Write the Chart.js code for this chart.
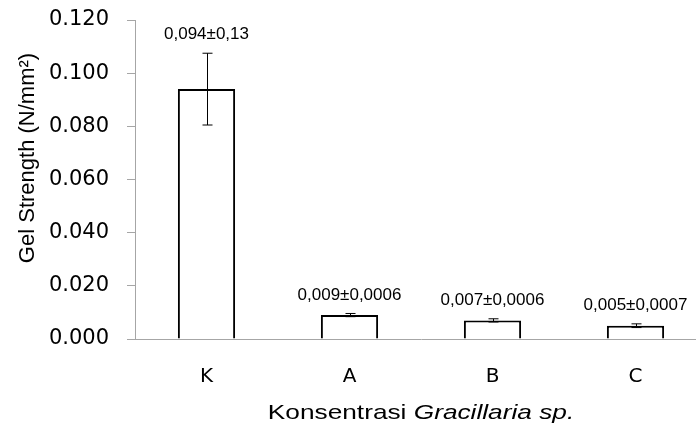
<!DOCTYPE html>
<html>
<head>
<meta charset="utf-8">
<script src="https://cdn.jsdelivr.net/npm/chart.js@4"></script>
<style>
body{margin:0;background:#fff;overflow:hidden;}
#wrap{width:696px;height:429px;overflow:hidden;}
</style>
</head>
<body>
<div id="wrap"><canvas id="grph" width="712" height="429"></canvas></div>
<script>
// data
const CATS = ["K", "A", "B", "C"];
const GEL = [0.094, 0.009, 0.007, 0.005];
const ERR = [0.0135, 0.0006, 0.0006, 0.0007];
const LABELS = ["0,094±0,13", "0,009±0,0006", "0,007±0,0006", "0,005±0,0007"];
const Y_TICKS = [0, 0.02, 0.04, 0.06, 0.08, 0.1, 0.12];

const GRAY = "#a6a6a6";

// error bars, value labels, axis titles
const errPlugin = {
    id: "errbars",
    afterDatasetsDraw(chart){
        const ctx = chart.ctx;
        const ys = chart.scales.y;
        const meta = chart.getDatasetMeta(0);
        ctx.save();
        meta.data.forEach((bar, i) => {
            const x = Math.round(bar.x) + 0.5;
            const top = ys.getPixelForValue(GEL[i] + ERR[i]);
            const bot = ys.getPixelForValue(GEL[i] - ERR[i]);
            ctx.strokeStyle = "#000";
            ctx.lineWidth = 1;
            ctx.beginPath();
            ctx.moveTo(x, top); ctx.lineTo(x, bot);
            ctx.moveTo(x - 5, top); ctx.lineTo(x + 5, top);
            ctx.moveTo(x - 5, bot); ctx.lineTo(x + 5, bot);
            ctx.stroke();

            ctx.fillStyle = "#000";
            ctx.font = "17px 'Liberation Sans'";
            ctx.textAlign = "center";
            ctx.textBaseline = "bottom";
            ctx.fillText(LABELS[i], bar.x, top - 10);
        });
        ctx.restore();
    },
    afterDraw(chart){
        const ctx = chart.ctx;
        const area = chart.chartArea;
        ctx.save();
        ctx.fillStyle = "#000";
        ctx.textBaseline = "middle";

        // x title, normal + italic part, a bit wide like the original
        const a = "Konsentrasi ", b = "Gracillaria sp.";
        const sx = 1.25;
        ctx.font = "21px 'Liberation Sans'";
        const wa = ctx.measureText(a).width;
        ctx.font = "italic 21px 'Liberation Sans'";
        const wb = ctx.measureText(b).width;
        const cx = (area.left + area.right) / 2;
        ctx.translate(cx, 413);
        ctx.scale(sx, 1);
        const x0 = -(wa + wb) / 2;
        ctx.textAlign = "left";
        ctx.font = "21px 'Liberation Sans'";
        ctx.fillText(a, x0, 0);
        ctx.font = "italic 21px 'Liberation Sans'";
        ctx.fillText(b, x0 + wa, 0);
        ctx.restore();

        // y title
        ctx.save();
        ctx.fillStyle = "#000";
        ctx.translate(28, 158);
        ctx.rotate(-Math.PI / 2);
        ctx.textAlign = "center";
        ctx.textBaseline = "middle";
        ctx.font = "22px 'Liberation Sans'";
        ctx.fillText("Gel Strength (N/mm²)", 0, 0);
        ctx.restore();
    }
};

new Chart(document.getElementById("grph"), {
    type: "bar",
    data: {
        labels: CATS,
        datasets: [{
            data: GEL,
            backgroundColor: "#fff",
            borderColor: "#000",
            borderWidth: 2,
            barPercentage: 0.4,
            categoryPercentage: 1
        }]
    },
    options: {
        responsive: false,
        animation: false,
        layout: {padding: {top: 20, right: 5, left: 0, bottom: 0}},
        plugins: {legend: {display: false}, tooltip: {enabled: false}},
        scales: {
            x: {
                grid: {display: false},
                border: {display: true, color: GRAY, width: 1},
                ticks: {color: "#000", font: {family: "DejaVu Sans", size: 20}, padding: 18},
                afterFit(s){ s.height = 90; }
            },
            y: {
                min: 0,
                max: 0.12,
                afterBuildTicks(s){ s.ticks = Y_TICKS.map(v => ({value: v})); },
                grid: {display: true, drawOnChartArea: false, drawTicks: true, tickLength: 8, color: GRAY},
                border: {display: true, color: GRAY, width: 1},
                ticks: {
                    color: "#000",
                    font: {family: "DejaVu Sans", size: 21},
                    padding: 18,
                    callback: v => v.toFixed(3)
                },
                afterFit(s){ s.width = 135; s.paddingTop = 0; s.paddingBottom = 0; }
            }
        }
    },
    plugins: [errPlugin]
});
</script>
</body>
</html>
